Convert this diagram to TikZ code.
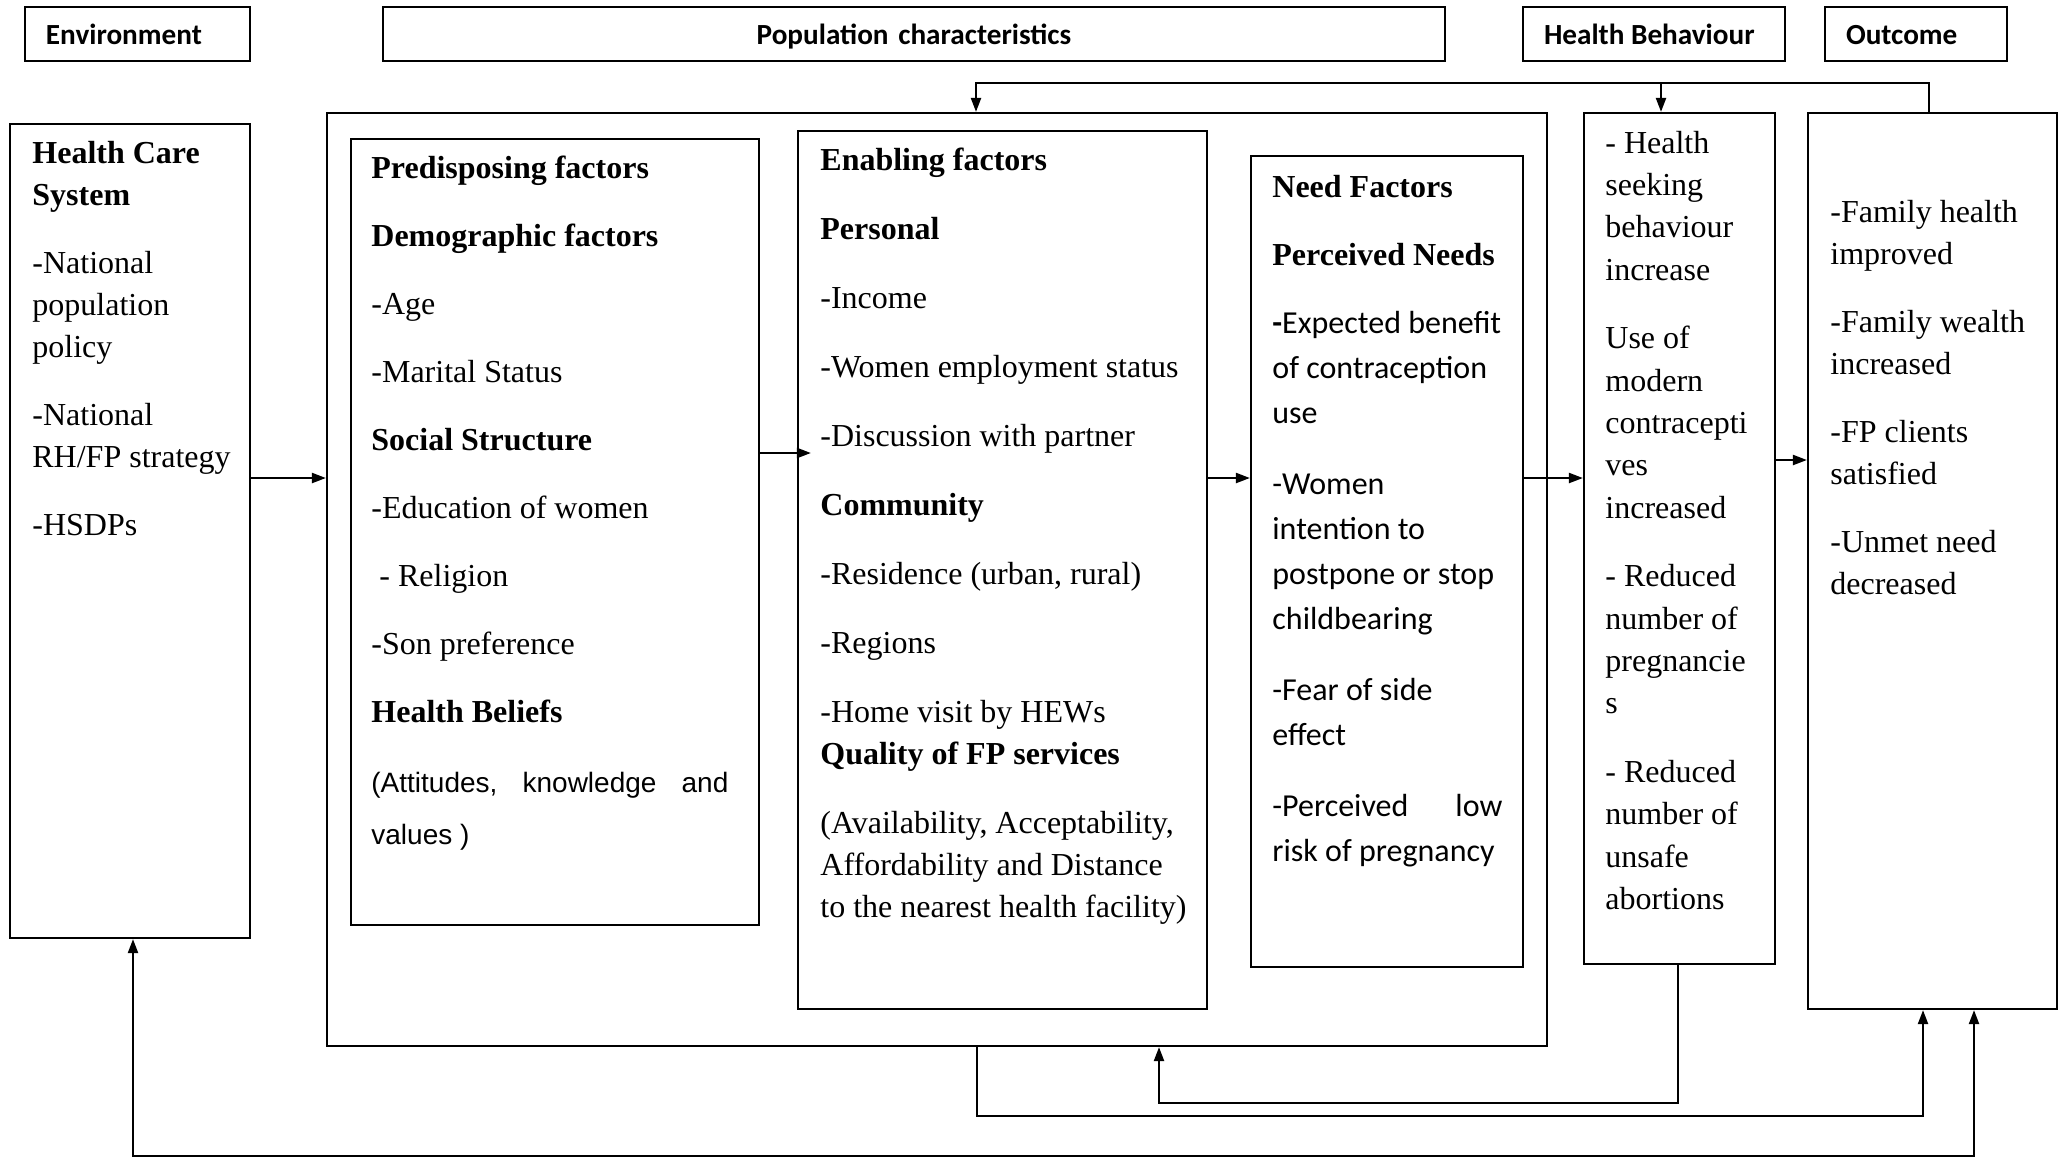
\documentclass[tikz,border=0pt]{standalone}
\usepackage{fontspec}
\setmainfont{Liberation Serif}
\newfontfamily\calibri{Carlito}
\newfontfamily\arialfont{Liberation Sans}
\usetikzlibrary{arrows.meta,fit}
\hyphenpenalty=10000
\exhyphenpenalty=10000

\begin{document}
\begin{tikzpicture}[x=0.5pt,y=-0.5pt,>={Triangle[length=7pt,width=5pt]},
  box/.style={draw,line width=1.1pt,inner sep=0pt},
  head/.style={box,inner xsep=10.5pt,minimum height=27pt,text height=10pt,text depth=0pt,align=flush left,font=\calibri\bfseries\fontsize{14.6}{17}\selectfont},
  body/.style={anchor=base west,inner sep=0pt,align=flush left,font=\fontsize{16}{21}\selectfont},
  need/.style={body,text width=130pt,font=\calibri\fontsize{16}{22.5}\selectfont},
  link/.style={line width=1.1pt}]
\useasboundingbox (0,0) rectangle (2060,1158);

% column headers
\node[head,text width=91.5pt] (envh) at (137.5,34) {Environment};
\node[head,text width=510pt,align=center] (poph) at (914,34) {Population characteristics};
\node[head,text width=110pt] (hbh) at (1654,34) {Health Behaviour};
\node[head,text width=70pt] (outh) at (1916,34) {Outcome};

% boxes
\node[box,fit={(10,124)(250,938)}] (hcs) {};
\node[box,fit={(327,113)(1547,1046)}] (pop) {};
\node[box,fit={(351,139)(759,925)}] (pred) {};
\node[box,fit={(798,131)(1207,1009)}] (enab) {};
\node[box,fit={(1251,156)(1523,967)}] (need) {};
\node[box,fit={(1584,113)(1775,964)}] (hb) {};
\node[box,fit={(1808,113)(2057,1009)}] (out) {};

% box texts
\node[body,text width=115pt] (hcstxt) at (32,163) {\textbf{Health Care}\\ \textbf{System}\\[13pt] -National\\ population\\ policy\\[13pt] -National\\ RH/FP strategy\\[13pt] -HSDPs};
\node[body,text width=190pt] (predtxt) at (371,178) {\textbf{Predisposing factors}\\[13pt] \textbf{Demographic factors}\\[13pt] -Age\\[13pt] -Marital Status\\[13pt] \textbf{Social Structure}\\[13pt] -Education of women\\[13pt] \hspace*{4pt}- Religion\\[13pt] -Son preference\\[13pt] \textbf{Health Beliefs}};
\node[body,text width=178.5pt,font=\arialfont\fontsize{14}{26}\selectfont] (belief) at (371,792) {\makebox[\linewidth]{(Attitudes,\hfill knowledge\hfill and}\\ values )};
\node[body,text width=195pt] (enabtxt) at (820,170) {\textbf{Enabling factors}\\[13.5pt] \textbf{Personal}\\[13.5pt] -Income\\[13.5pt] -Women employment status\\[13.5pt] -Discussion with partner\\[13.5pt] \textbf{Community}\\[13.5pt] -Residence (urban, rural)\\[13.5pt] -Regions\\[13.5pt] -Home visit by HEWs\\ \textbf{Quality of FP services}\\[13.5pt] (Availability, Acceptability,\\ Affordability and Distance\\ to the nearest health facility)};
\node[body,text width=115pt] (needhd) at (1272,197) {\textbf{Need Factors}\\[13pt] \textbf{Perceived Needs}};
\node[need] (needtxt) at (1272,333) {\textbf{-}Expected benefit\\ of contraception\\ use\\[13pt] -Women\\ intention to\\ postpone or stop\\ childbearing\\[13pt] -Fear of side\\ effect\\[13pt] \makebox[115pt]{-Perceived\hfill low}\\ risk of pregnancy};
\node[body,text width=90pt,font=\fontsize{16}{21.2}\selectfont] (hbtxt) at (1605,153) {- Health\\ seeking\\ behaviour\\ increase\\[13pt] Use of\\ modern\\ contracepti\\ ves\\ increased\\[13pt] - Reduced\\ number of\\ pregnancie\\ s\\[13pt] - Reduced\\ number of\\ unsafe\\ abortions};
\node[body,text width=115pt] (outtxt) at (1830,222) {-Family health\\ improved\\[13pt] -Family wealth\\ increased\\[13pt] -FP clients\\ satisfied\\[13pt] -Unmet need\\ decreased};

% forward arrows
\coordinate (rowa) at (0,478);
\coordinate (rowb) at (0,453);
\coordinate (rowc) at (0,460);
\draw[link,->] (hcs.east |- rowa) -- (pop.west |- rowa);
\draw[link,->,shorten >=-7pt] (pred.east |- rowb) -- (enab.west |- rowb);
\draw[link,->] (enab.east |- rowa) -- (need.west |- rowa);
\draw[link,->] (need.east |- rowa) -- (hb.west |- rowa);
\draw[link,->] (hb.east |- rowc) -- (out.west |- rowc);

% feedback loops
\coordinate (topr) at (1929,83);
\coordinate (topl) at (976,83);
\coordinate (tophb) at (1661,83);
\draw[link,->] (out.north -| topr) -- (topr) -- (topl) -- (topl |- pop.north);
\draw[link,->] (tophb) -- (tophb |- hb.north);
\coordinate (lowl) at (977,1116);
\coordinate (lowr) at (1923,1116);
\draw[link,->] (pop.south -| lowl) -- (lowl) -- (lowr) -- (lowr |- out.south);
\coordinate (hbr) at (1678,1103);
\coordinate (hbl) at (1159,1103);
\draw[link,->] (hb.south -| hbr) -- (hbr) -- (hbl) -- (hbl |- pop.south);
\coordinate (basel) at (133,1156);
\coordinate (baser) at (1974,1156);
\draw[link,<->] (hcs.south -| basel) -- (basel) -- (baser) -- (baser |- out.south);
\end{tikzpicture}
\end{document}
